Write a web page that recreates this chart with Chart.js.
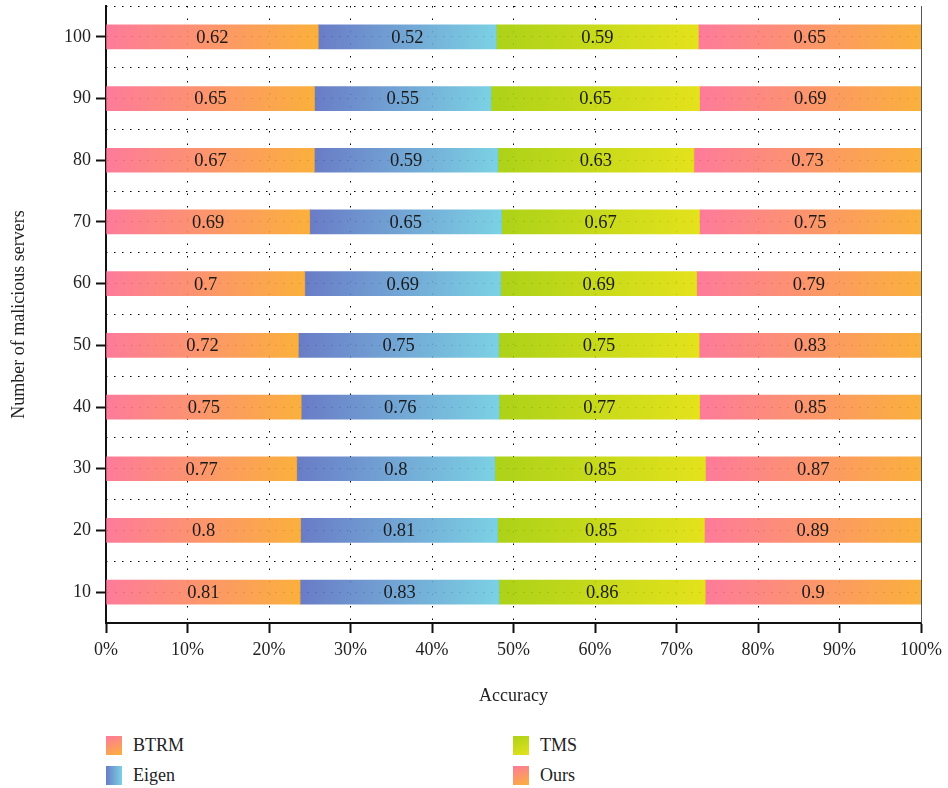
<!DOCTYPE html>
<html>
<head>
<meta charset="utf-8">
<script src="https://cdn.jsdelivr.net/npm/chart.js@4.4.1/dist/chart.umd.min.js"></script>
<style>
  body { margin: 0; background: #fff; }
  #wrap { position: relative; width: 948px; height: 788px; font-family: "Liberation Serif", serif; color: #222; }
  #chart { position: absolute; left: 0; top: 0; }
  #legend { position: absolute; left: 106px; top: 733px; width: 820px; display: grid;
            grid-template-columns: 407px 407px; grid-auto-flow: column; grid-template-rows: 30px 30px; }
  .item { display: flex; align-items: center; font-size: 18px; height: 24px; }
  .swatch { width: 16px; height: 19px; margin-right: 11px; }
</style>
</head>
<body>
<div id="wrap">
  <canvas id="chart" width="948" height="720"></canvas>
  <div id="legend"></div>
</div>
<script>
// number of malicious servers (bottom to top)
var categories = ['10', '20', '30', '40', '50', '60', '70', '80', '90', '100'];
var btrm  = [0.81, 0.8, 0.77, 0.75, 0.72, 0.7, 0.69, 0.67, 0.65, 0.62];
var eigen = [0.83, 0.81, 0.8, 0.76, 0.75, 0.69, 0.65, 0.59, 0.55, 0.52];
var tms   = [0.86, 0.85, 0.85, 0.77, 0.75, 0.69, 0.67, 0.63, 0.65, 0.59];
var ours  = [0.9, 0.89, 0.87, 0.85, 0.83, 0.79, 0.75, 0.73, 0.69, 0.65];
var seriesNames = ['BTRM', 'Eigen', 'TMS', 'Ours'];
var xTickStep = 10;

var series = [btrm, eigen, tms, ours];
var fills = [
  ['rgba(253,108,144,0.9)', 'rgba(250,168,38,0.9)'],
  ['rgba(89,109,192,0.9)', 'rgba(109,205,225,0.9)'],
  ['rgba(163,205,0,0.9)', 'rgba(225,223,3,0.9)'],
  ['rgba(253,108,144,0.9)', 'rgba(250,168,38,0.9)']
];

// each row is drawn as share of its total (100% stacked)
var totals = categories.map(function (c, i) {
  return series.reduce(function (s, arr) { return s + arr[i]; }, 0);
});
var shares = series.map(function (arr) {
  return arr.map(function (v, i) { return v / totals[i] * 100; });
});

var serif = '"Liberation Serif", serif';

function barFill(d) {
  return function (ctx) {
    var chart = ctx.chart;
    if (!chart.chartArea || ctx.type !== 'data') return fills[d][0];
    var i = ctx.dataIndex, start = 0;
    for (var k = 0; k < d; k++) start += shares[k][i];
    var x = chart.scales.x;
    var x0 = x.getPixelForValue(start), x1 = x.getPixelForValue(start + shares[d][i]);
    var yc = chart.scales.y.getPixelForValue(i);
    var g = chart.ctx.createLinearGradient(x0, yc - 12, x1, yc + 12);
    g.addColorStop(0, fills[d][0]);
    g.addColorStop(1, fills[d][1]);
    return g;
  };
}

var valueLabels = {
  id: 'valueLabels',
  afterDatasetsDraw: function (chart) {
    var ctx = chart.ctx;
    ctx.save();
    ctx.font = '18.5px ' + serif;
    ctx.fillStyle = '#1a1a1a';
    ctx.textAlign = 'center';
    ctx.textBaseline = 'middle';
    chart.data.datasets.forEach(function (ds, d) {
      chart.getDatasetMeta(d).data.forEach(function (bar, i) {
        var p = bar.getCenterPoint();
        ctx.fillText(String(ds.values[i]), p.x, p.y + 1);
      });
    });
    ctx.restore();
  }
};

var rightBorder = {
  id: 'rightBorder',
  afterDraw: function (chart) {
    var a = chart.chartArea, ctx = chart.ctx;
    ctx.save();
    ctx.strokeStyle = '#555';
    ctx.lineWidth = 1;
    ctx.beginPath();
    ctx.moveTo(a.right + 0.5, a.top);
    ctx.lineTo(a.right + 0.5, a.bottom);
    ctx.stroke();
    ctx.restore();
  }
};

var chart = new Chart(document.getElementById('chart'), {
  type: 'bar',
  data: {
    labels: categories,
    datasets: seriesNames.map(function (name, d) {
      return {
        label: name,
        data: shares[d],
        values: series[d],
        backgroundColor: barFill(d),
        borderWidth: 0,
        barThickness: 24
      };
    })
  },
  options: {
    indexAxis: 'y',
    responsive: false,
    animation: false,
    layout: { padding: { top: 6, right: 27, left: 0, bottom: 0 } },
    plugins: { legend: { display: false }, tooltip: { enabled: false } },
    scales: {
      x: {
        stacked: true,
        min: 0,
        max: 100,
        ticks: {
          stepSize: xTickStep,
          padding: 6,
          color: '#222',
          font: { family: serif, size: 18 },
          callback: function (v) { return v + '%'; }
        },
        grid: { color: '#000', lineWidth: 1, tickLength: 10, tickWidth: 2, tickColor: '#111', tickBorderDash: [] },
        border: { display: true, color: '#111', width: 2, dash: [1.5, 11] },
        title: { display: true, text: 'Accuracy', color: '#222', font: { family: serif, size: 18 }, padding: { top: 0, bottom: 13 } },
        afterFit: function (s) { s.height = 720 - 623; }
      },
      y: {
        stacked: true,
        reverse: true,
        offset: true,
        ticks: { padding: 5, color: '#222', font: { family: serif, size: 18 } },
        grid: { offset: false, color: '#000', lineWidth: 1, tickLength: 10, tickWidth: 2, tickColor: '#111', tickBorderDash: [] },
        border: { display: true, color: '#111', width: 2, dash: [1.5, 6.5] },
        title: { display: true, text: 'Number of malicious servers', color: '#222', font: { family: serif, size: 18 }, padding: { top: 8, bottom: 0 } },
        afterFit: function (s) { s.width = 106; s.paddingTop = 0; s.paddingBottom = 0; }
      },
      y2: {
        type: 'category',
        labels: categories,
        position: 'left',
        reverse: true,
        offset: true,
        ticks: { display: false },
        grid: { offset: true, color: '#000', lineWidth: 1, drawTicks: false },
        border: { display: false, dash: [1.5, 6.5] },
        afterFit: function (s) { s.width = 0; s.paddingTop = 0; s.paddingBottom = 0; }
      }
    }
  },
  plugins: [valueLabels, rightBorder]
});

// legend, two columns
var legend = document.getElementById('legend');
seriesNames.forEach(function (name, d) {
  var item = document.createElement('div');
  item.className = 'item';
  var sw = document.createElement('span');
  sw.className = 'swatch';
  sw.style.background = 'linear-gradient(' + (d === 1 ? '90deg' : '160deg') + ',' + fills[d][0] + ',' + fills[d][1] + ')';
  item.appendChild(sw);
  item.appendChild(document.createTextNode(name));
  legend.appendChild(item);
});
</script>
</body>
</html>
